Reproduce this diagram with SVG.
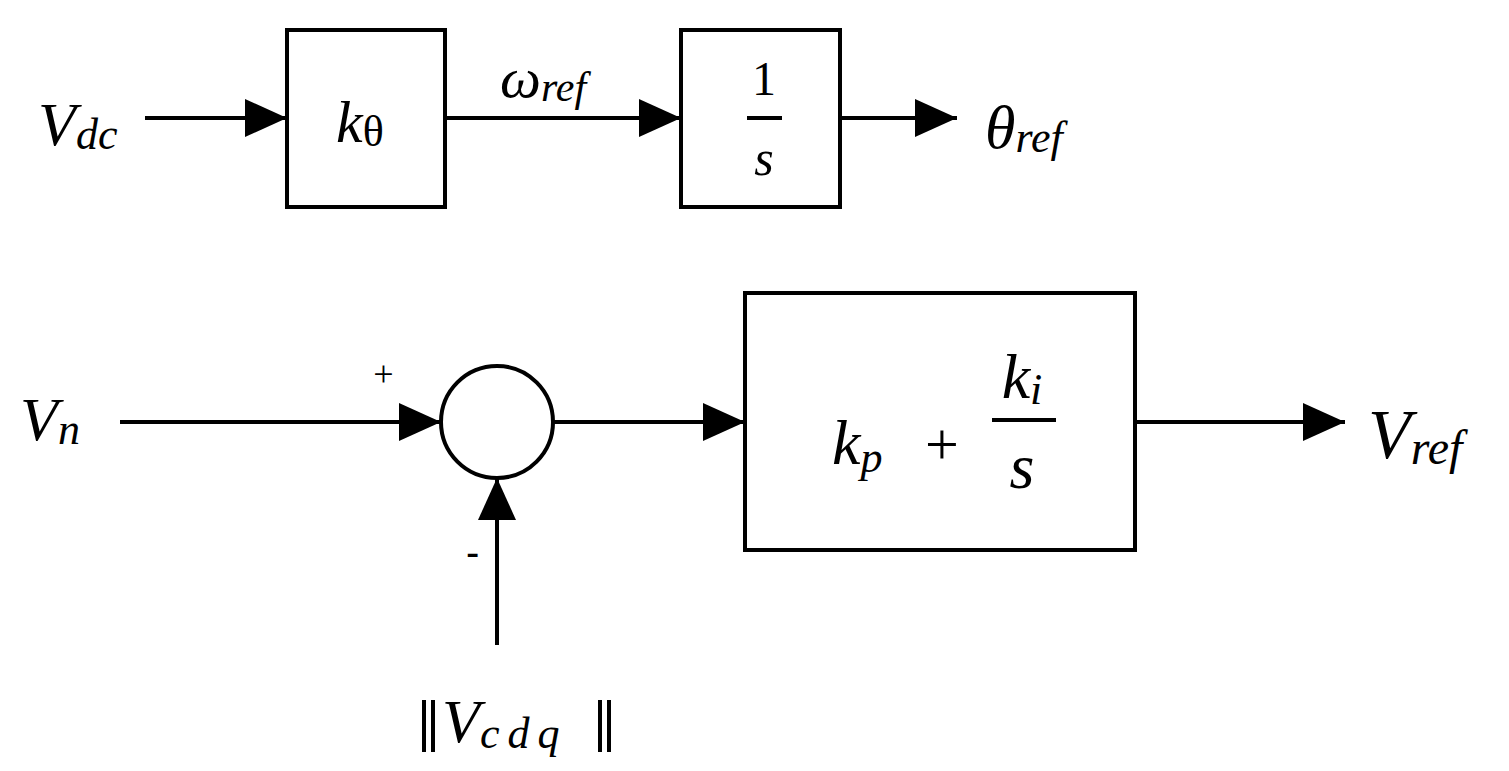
<svg xmlns="http://www.w3.org/2000/svg" width="1509" height="771" viewBox="0 0 1509 771">
<style>
.b{fill:none;stroke:#000;stroke-width:4}
.t{font-family:"Liberation Serif","DejaVu Serif",serif;font-style:italic;fill:#000}
.n{font-family:"Liberation Serif","DejaVu Serif",serif;fill:#000}
</style>
<defs><marker id="a" markerUnits="userSpaceOnUse" markerWidth="42" markerHeight="38" refX="42" refY="19" orient="auto"><path d="M0,0L42,19L0,38Z"/></marker></defs>
<rect width="1509" height="771" fill="#fff"/>
<g id="connectors" class="b">
<line x1="145" y1="118" x2="287" y2="118" marker-end="url(#a)"/>
<line x1="445" y1="118" x2="681" y2="118" marker-end="url(#a)"/>
<line x1="840" y1="118" x2="957" y2="118" marker-end="url(#a)"/>
<line x1="120" y1="422" x2="441" y2="422" marker-end="url(#a)"/>
<line x1="553" y1="422" x2="745" y2="422" marker-end="url(#a)"/>
<line x1="1135" y1="422" x2="1345" y2="422" marker-end="url(#a)"/>
<line x1="497" y1="645" x2="497" y2="478" marker-end="url(#a)"/>
</g>
<g id="vdc"><text class="t" x="38" y="145" font-size="62">V<tspan font-size="44" dy="4">dc</tspan></text></g>
<g id="ktheta"><rect class="b" x="287" y="30" width="158" height="177"/><text class="t" x="336" y="142" font-size="60">k<tspan class="n" font-style="normal" font-size="44" dy="4">θ</tspan></text></g>
<g id="wref"><text class="t" x="500" y="97" font-size="58">ω<tspan font-size="42" dy="4">ref</tspan></text></g>
<g id="integ"><rect class="b" x="681" y="30" width="159" height="177"/><text class="n" x="764" y="95" font-size="48" text-anchor="middle">1</text><line class="b" x1="747" y1="118" x2="782" y2="118" stroke-width="3"/><text class="t" x="764" y="175" font-size="50" text-anchor="middle">s</text></g>
<g id="thetaref"><text class="t" x="985" y="148" font-size="62">θ<tspan font-size="44" dy="4">ref</tspan></text></g>
<g id="vn"><text class="t" x="20" y="440" font-size="62">V<tspan font-size="44" dy="4">n</tspan></text></g>
<g id="sum"><circle class="b" cx="497" cy="422" r="56"/><text class="t" x="371" y="386" font-size="36">+</text><text x="466" y="566" font-family="Liberation Sans,sans-serif" font-size="40">-</text></g>
<g id="pi"><rect class="b" x="745" y="293" width="390" height="257"/><text class="t" x="832" y="464" font-size="64">k<tspan font-size="44" dy="8">p</tspan><tspan class="n" font-style="normal" font-size="60" dy="-8" x="925">+</tspan></text><text class="t" x="1022" y="398" font-size="64" text-anchor="middle">k<tspan font-size="44" dy="6">i</tspan></text><line class="b" x1="992" y1="420" x2="1056" y2="420" stroke-width="3"/><text class="t" x="1022" y="488" font-size="64" text-anchor="middle">s</text></g>
<g id="vref"><text class="t" x="1368" y="458" font-size="70">V<tspan font-size="48" dy="6">ref</tspan></text></g>
<g id="vcdq"><g class="b" stroke-width="3"><line x1="424" y1="700" x2="424" y2="752"/><line x1="433" y1="700" x2="433" y2="752"/><line x1="600" y1="700" x2="600" y2="752"/><line x1="609" y1="700" x2="609" y2="752"/></g><text class="t" x="442" y="742" font-size="62">V<tspan font-size="44" dy="6" letter-spacing="8">cdq</tspan></text></g>
</svg>
